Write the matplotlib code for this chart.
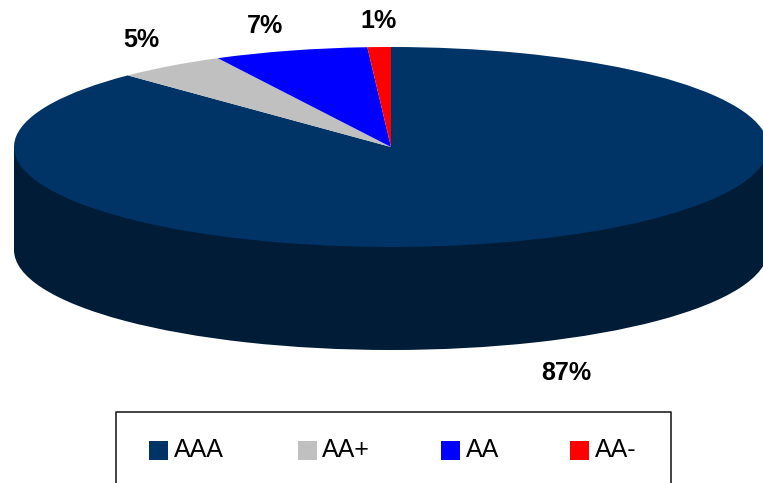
import matplotlib
matplotlib.use("Agg")
import matplotlib.pyplot as plt
from matplotlib.patches import Rectangle

plt.rcParams['font.family'] = ['Liberation Sans', 'DejaVu Sans']

#The values
categories = ["AAA", "AA+", "AA", "AA-"]
values = [87.7, 4.7, 6.6, 1.0]
pct_labels = ["87%", "5%", "7%", "1%"]
colors = ["#003366", "#C0C0C0", "#0000FF", "#FF0000"]
side_color = "#001C36"

W, H = 763, 483
cx, cy = 391, 147
rx, ry = 377, 100
depth = 103 / ry

fig = plt.figure(figsize=(W / 100, H / 100), dpi=100)

#Axes in pixel units, for the labels and the legend
page = fig.add_axes([0, 0, 1, 1])
page.set_xlim(0, W)
page.set_ylim(H, 0)
page.axis("off")

#The pie is squashed by giving it an axes that is wider than it is tall
pie_ax = fig.add_axes([(cx - rx) / W, 1 - (cy + ry + depth * ry) / H,
                       2 * rx / W, (2 + depth) * ry / H])
pie_ax.pie([1], colors=[side_color], center=(0, -depth), radius=1)
pie_ax.add_patch(Rectangle((-1, -depth), 2, depth, color=side_color, lw=0))
pie_ax.pie(values, colors=colors, startangle=90, counterclock=False, radius=1)
pie_ax.set_aspect("auto")
pie_ax.set_xlim(-1, 1)
pie_ax.set_ylim(-1 - depth, 1)
pie_ax.axis("off")
for patch in pie_ax.patches:
    patch.set_clip_on(False)

#Percent labels
label_pos = [(566, 373), (141, 40), (265, 26), (378, 21)]
for text, (x, y) in zip(pct_labels, label_pos):
    page.text(x, y, text, fontsize=18, fontweight="bold", color="black",
              ha="center", va="center")

#Legend, its box runs off the bottom of the picture
page.plot([116, 116, 671, 671], [H + 5, 412, 412, H + 5], color="#222222", lw=1.2,
          clip_on=True)
swatch_x = [149, 298, 441, 570]
text_x = [174, 322, 466, 595]
for name, color, sx, tx in zip(categories, colors, swatch_x, text_x):
    page.add_patch(Rectangle((sx, 441), 19, 19, color=color, lw=0))
    page.text(tx, 450, name, fontsize=18, color="black", ha="left", va="center")

fig.savefig("out.png", dpi=100)
